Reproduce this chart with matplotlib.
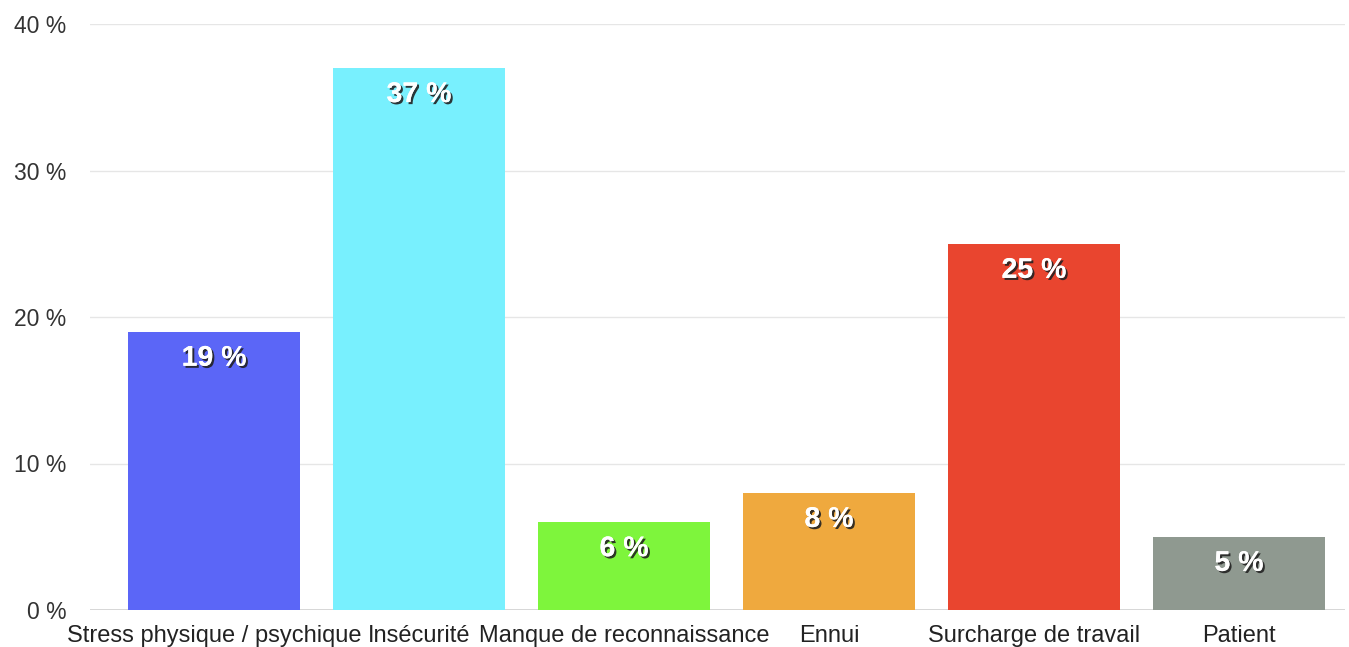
import matplotlib
matplotlib.use("Agg")
import matplotlib.pyplot as plt
import matplotlib.patheffects as pe

categories = ["Stress physique / psychique", "Insécurité", "Manque de reconnaissance",
              "Ennui", "Surcharge de travail", "Patient"]
values = [19, 37, 6, 8, 25, 5]
colors = ["#5B66F7", "#78F0FE", "#7EF53C", "#EFA93E", "#E9452F", "#8F9990"]
yticks = [0, 10, 20, 30, 40]
ytick_labels = ["0 %", "10 %", "20 %", "30 %", "40 %"]

plt.rcParams['font.family'] = ['Liberation Sans', 'DejaVu Sans']

fig = plt.figure(figsize=(13.49, 6.47), dpi=100)
ax = fig.add_axes([90/1349, 37/647, 1255/1349, 586/647])

x = list(range(len(categories)))
ax.bar(x, values, width=0.84, color=colors, zorder=3)

for xi, v in zip(x, values):
    ax.text(xi, v - 1.85, f"{v} %", ha="center", va="center", color="white",
            fontsize=20.5, fontweight="bold", zorder=4,
            path_effects=[pe.withSimplePatchShadow(offset=(1.5, -1.5), shadow_rgbFace="#222222", alpha=0.9),
                          pe.Normal()])

ax.set_xlim(-0.605, 5.517)
ax.set_ylim(0, 40)
ax.set_yticks(yticks)
ax.set_yticklabels(ytick_labels, fontsize=16.5, color="#333333")
ax.set_xticks(x)
ax.set_xticklabels(categories, fontsize=17, color="#222222")
ax.tick_params(axis="both", length=0)
ax.tick_params(axis="y", pad=17)
ax.tick_params(axis="x", pad=11)
ax.yaxis.grid(True, color="#e6e6e6", linewidth=1, zorder=0)
for s in ax.spines.values():
    s.set_visible(False)
ax.axhline(0, color="#d0d0d0", linewidth=1.2, zorder=2)

fig.savefig("out.png", dpi=100)
